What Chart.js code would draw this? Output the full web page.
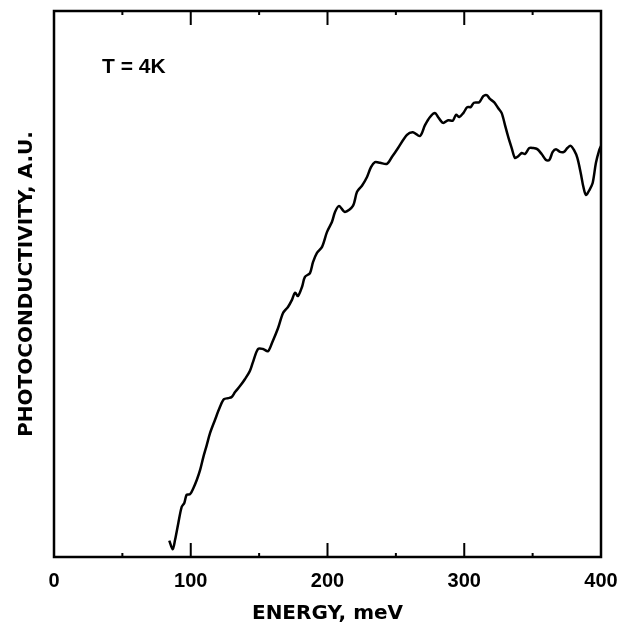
<!DOCTYPE html>
<html>
<head>
<meta charset="utf-8">
<script src="https://cdn.jsdelivr.net/npm/chart.js@4/dist/chart.umd.min.js"></script>
<style>
  html, body { margin: 0; padding: 0; background: #fff; }
  #wrap { width: 631px; height: 626px; }
</style>
</head>
<body>
<div id="wrap"><canvas id="grafico" width="631" height="626"></canvas></div>
<script>
// energia (meV) e fotocondutividade (u.a.)
const energia = [84.3, 86.8, 88.5, 90.9, 93.4, 95.3, 97.0, 99.5, 101.9, 104.4, 106.8, 109.2, 111.7, 114.1,
    117.7, 121.4, 124.3, 127.5, 129.9, 132.4, 136.0, 139.7, 143.3, 145.5, 149.2, 152.8, 156.5, 159.4,
    163.8, 167.5, 171.1, 174.0, 176.2, 178.4, 181.4, 183.5, 187.2, 189.4, 192.3, 196.0, 199.6, 203.3,
    205.5, 208.4, 212.8, 218.6, 221.6, 225.2, 228.9, 231.8, 234.7, 238.4, 243.5, 247.2, 251.6, 258.1,
    262.5, 267.6, 271.3, 275.0, 278.6, 280.8, 284.5, 288.3, 291.6, 294.0, 296.4, 299.3, 302.2, 304.7,
    307.1, 311.0, 313.9, 316.4, 318.8, 321.8, 324.9, 327.4, 329.8, 332.2, 334.7, 337.1, 339.5, 342.0,
    344.4, 347.6, 350.5, 353.4, 356.6, 359.8, 362.2, 364.7, 367.1, 370.0, 372.9, 375.4, 377.8, 380.3,
    382.7, 385.2, 387.1, 389.0, 391.5, 393.9, 396.3, 398.7, 400.0];
const fotocond = [3.0, 1.4, 3.1, 6.2, 9.2, 9.9, 11.4, 11.5, 12.6, 14.1, 15.9, 18.3, 20.5, 22.7,
    25.1, 27.5, 28.9, 29.1, 29.3, 30.2, 31.3, 32.6, 34.1, 35.7, 38.1, 38.1, 37.7, 39.2,
    41.9, 44.7, 45.8, 47.1, 48.4, 47.8, 49.5, 51.3, 52.0, 54.0, 55.7, 56.8, 59.5, 61.4,
    63.2, 64.3, 63.2, 64.3, 66.9, 68.0, 69.6, 71.4, 72.3, 72.2, 72.0, 73.3, 74.9, 77.3,
    77.8, 77.1, 79.1, 80.6, 81.3, 80.6, 79.5, 80.0, 79.9, 81.0, 80.6, 81.3, 82.4, 82.4,
    83.2, 83.3, 84.4, 84.6, 83.9, 83.3, 82.2, 81.3, 79.1, 76.9, 74.9, 73.1, 73.4, 74.0,
    73.8, 74.9, 74.9, 74.7, 73.8, 72.7, 72.7, 74.2, 74.7, 74.2, 74.2, 74.9, 75.3, 74.5,
    73.1, 70.3, 67.8, 66.3, 67.2, 68.5, 72.2, 74.5, 75.3];
const ticksMaiores = [100, 200, 300];
const ticksMenores = [50, 150, 250, 350];
const rotuloTemp = 'T = 4K';

const fonte = '"Liberation Sans", Arial, Helvetica, sans-serif';
const fonteTitulo = '"DejaVu Sans", "Liberation Sans", sans-serif';

const moldura = {
    id: 'moldura',
    afterDraw(chart) {
        const ctx = chart.ctx;
        const a = chart.chartArea;
        const sx = chart.scales.x, sy = chart.scales.y;
        ctx.save();
        ctx.strokeStyle = '#000';
        ctx.lineWidth = 2.5;
        ctx.strokeRect(a.left, a.top, a.right - a.left, a.bottom - a.top);
        ctx.lineWidth = 2;
        ctx.beginPath();
        ticksMaiores.forEach(v => {
            const px = sx.getPixelForValue(v);
            ctx.moveTo(px, a.bottom); ctx.lineTo(px, a.bottom - 14);
            ctx.moveTo(px, a.top); ctx.lineTo(px, a.top + 14);
        });
        ticksMenores.forEach(v => {
            const px = sx.getPixelForValue(v);
            ctx.moveTo(px, a.bottom); ctx.lineTo(px, a.bottom - 4);
            ctx.moveTo(px, a.top); ctx.lineTo(px, a.top + 4);
        });
        ctx.stroke();
        ctx.fillStyle = '#000';
        ctx.font = 'bold 21px ' + fonte;
        ctx.textBaseline = 'middle';
        ctx.fillText(rotuloTemp, sx.getPixelForValue(35.1), sy.getPixelForValue(89.7));
        ctx.restore();
    }
};

const config = {
    type: 'line',
    data: {
        datasets: [{
            data: energia.map((e, i) => ({ x: e, y: fotocond[i] })),
            borderColor: '#000',
            borderWidth: 2.5,
            pointRadius: 0,
            tension: 0.3,
            fill: false
        }]
    },
    options: {
        responsive: false,
        animation: false,
        layout: { padding: { top: 11, right: 30, left: 0, bottom: 0 } },
        plugins: { legend: { display: false }, tooltip: { enabled: false } },
        scales: {
            x: {
                type: 'linear',
                min: 0, max: 400,
                border: { display: false },
                grid: { display: false, drawTicks: false },
                ticks: {
                    stepSize: 100,
                    color: '#000',
                    padding: 12,
                    maxRotation: 0,
                    font: { family: fonte, size: 20, weight: 'bold' }
                },
                title: {
                    display: true,
                    text: 'ENERGY, meV',
                    color: '#000',
                    padding: { top: 8, bottom: 0 },
                    font: { family: fonteTitulo, size: 20, weight: 'bold' }
                },
                afterFit(scale) { scale.height = 69; }
            },
            y: {
                min: 0, max: 100,
                border: { display: false },
                grid: { display: false, drawTicks: false },
                ticks: { display: false },
                title: {
                    display: true,
                    text: 'PHOTOCONDUCTIVITY, A.U.',
                    color: '#000',
                    padding: { top: 15, bottom: 0 },
                    font: { family: fonteTitulo, size: 20, weight: 'bold' }
                },
                afterFit(scale) { scale.width = 54; }
            }
        }
    },
    plugins: [moldura]
};

var ctx = document.getElementById('grafico').getContext('2d');
let meuGrafico = new Chart(ctx, config);
</script>
</body>
</html>
